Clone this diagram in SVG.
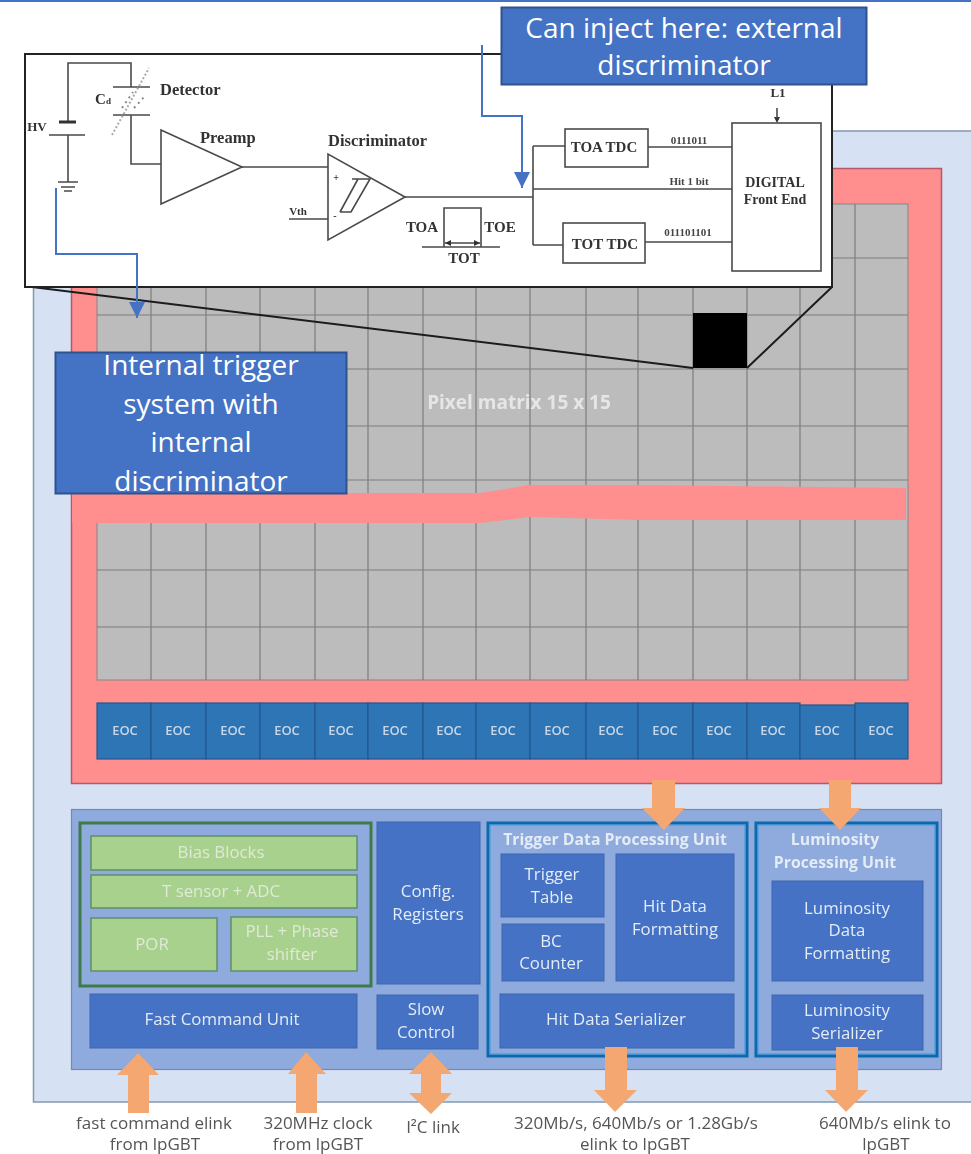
<svg xmlns="http://www.w3.org/2000/svg" width="971" height="1154" viewBox="0 0 971 1154">
<style>
text{font-family:"Open Sans","Noto Sans","Liberation Sans",sans-serif;text-anchor:middle}
.soft{filter:url(#b)}
.call{fill:#4472c4;stroke:#2f528f;stroke-width:2}
.ct{fill:#fff;font-size:28px}
.g{fill:#a9d18e;stroke:#5d8f68;stroke-width:1.5}
.d{fill:#4472c4;stroke:#3f66ad;stroke-width:1}
.w{fill:#e4ecf6;font-size:16.800px}
.wb{fill:#e4ecf6;font-size:15.800px;font-weight:700}
.gw{fill:#dfe9d6;font-size:16.800px}
.e{fill:#2e75b6;stroke:#24568c;stroke-width:1.2}
.et{fill:#c7d6e8;font-size:13px;font-weight:600}
.o{fill:#f4a76f}
.l{fill:#555;font-size:17px}
.s{fill:none;stroke:#4a4a4a;stroke-width:1.6}
.bx{fill:#fff;stroke:#4a4a4a;stroke-width:1.6}
.i{font-family:"Liberation Serif",serif;font-weight:bold;fill:#333;font-size:15px}
.ib{font-size:16.500px;text-anchor:start}
.i3{font-size:14px}
.i2{font-family:"Liberation Serif",serif;font-weight:bold;fill:#444;font-size:11px}
.blue{fill:none;stroke:#4472c4;stroke-width:2}
.inner{fill:none;stroke:#3a9ad9;stroke-width:1}
</style>
<defs>
<filter id="b" x="-2%" y="-2%" width="104%" height="104%"><feGaussianBlur stdDeviation="0.6"/></filter>
<marker id="ah" markerUnits="userSpaceOnUse" markerWidth="16" markerHeight="16" refX="16" refY="8" orient="auto"><path d="M0 0L16 8L0 16z" fill="#4472c4"/></marker>
</defs>
<rect width="971" height="1154" fill="#fff"/>
<rect width="971" height="2" fill="#4472c4"/>
<g class="soft">
<g id="chip"><rect x="33.500" y="131" width="945" height="971" fill="#d6e2f3" stroke="#8497b0" stroke-width="1.500"/></g>
<g id="pixel-area"><rect x="71.500" y="168.500" width="870" height="615" fill="#ff8f8f" stroke="#b05a6c" stroke-width="1.500"/></g>
<g id="pixel-matrix">
<rect x="97" y="204" width="811" height="476" fill="#bcbcbc" stroke="#858585"/>
<path d="M151 204V680M206 204V680M260 204V680M315 204V680M368 204V680M423 204V680M476 204V680M530 204V680M586 204V680M638 204V680M693 204V680M747 204V680M800 204V680M855 204V680M97 258H908M97 315H908M97 369H908M97 426H908M97 480H908M97 570H908M97 627H908" fill="none" stroke="#7d7d7d" stroke-width="1.200"/>
<path d="M72 493H480L530 485H640L906 488V520H640L530 517L480 523H72z" fill="#ff8f8f"/>
<rect x="693" y="313" width="54" height="55" fill="#000"/>
<text x="519" y="409" font-size="19px" font-weight="700" fill="#e6e6e6">Pixel matrix 15 x 15</text>
</g>
<g id="eoc-1"><rect class="e" x="97" y="703" width="54" height="56"/><text class="et" x="125" y="735">EOC</text></g>
<g id="eoc-2"><rect class="e" x="151" y="703" width="55" height="56"/><text class="et" x="178" y="735">EOC</text></g>
<g id="eoc-3"><rect class="e" x="206" y="703" width="54" height="56"/><text class="et" x="233" y="735">EOC</text></g>
<g id="eoc-4"><rect class="e" x="260" y="703" width="55" height="56"/><text class="et" x="287" y="735">EOC</text></g>
<g id="eoc-5"><rect class="e" x="315" y="703" width="53" height="56"/><text class="et" x="341" y="735">EOC</text></g>
<g id="eoc-6"><rect class="e" x="368" y="703" width="55" height="56"/><text class="et" x="395" y="735">EOC</text></g>
<g id="eoc-7"><rect class="e" x="423" y="703" width="53" height="56"/><text class="et" x="449" y="735">EOC</text></g>
<g id="eoc-8"><rect class="e" x="476" y="703" width="54" height="56"/><text class="et" x="503" y="735">EOC</text></g>
<g id="eoc-9"><rect class="e" x="530" y="703" width="56" height="56"/><text class="et" x="557" y="735">EOC</text></g>
<g id="eoc-10"><rect class="e" x="586" y="703" width="52" height="56"/><text class="et" x="611" y="735">EOC</text></g>
<g id="eoc-11"><rect class="e" x="638" y="703" width="55" height="56"/><text class="et" x="665" y="735">EOC</text></g>
<g id="eoc-12"><rect class="e" x="693" y="703" width="54" height="56"/><text class="et" x="719" y="735">EOC</text></g>
<g id="eoc-13"><rect class="e" x="747" y="703" width="53" height="56"/><text class="et" x="773" y="735">EOC</text></g>
<g id="eoc-14"><rect class="e" x="800" y="705" width="55" height="54"/><text class="et" x="827" y="735">EOC</text></g>
<g id="eoc-15"><rect class="e" x="855" y="703" width="53" height="56"/><text class="et" x="881" y="735">EOC</text></g>

<g id="periphery"><rect x="71.500" y="809.500" width="870" height="260" fill="#8faadc" stroke="#7089b5" stroke-width="1.200"/></g>
<g id="analog-frame"><rect x="80" y="823" width="291" height="163" fill="#8faadc" stroke="#3f7a4a" stroke-width="3"/></g>
<g id="bias-blocks"><rect class="g" x="91" y="836" width="266" height="34"/><text class="gw" x="221" y="858">Bias Blocks</text></g>
<g id="t-sensor"><rect class="g" x="91" y="875" width="266" height="33"/><text class="gw" x="221" y="897">T sensor + ADC</text></g>
<g id="por"><rect class="g" x="91" y="918" width="126" height="53"/><text class="gw" x="152" y="950">POR</text></g>
<g id="pll"><rect class="g" x="231" y="917" width="126" height="54"/><text class="gw" x="292" y="937">PLL + Phase</text><text class="gw" x="292" y="960">shifter</text></g>
<g id="fast-command"><rect class="d" x="90" y="994" width="267" height="54"/><text class="w" x="222" y="1025">Fast Command Unit</text></g>
<g id="config"><rect class="d" x="377" y="822" width="103" height="162"/><text class="w" x="428" y="897">Config.</text><text class="w" x="428" y="920">Registers</text></g>
<g id="slow-control"><rect class="d" x="377" y="995" width="101" height="54"/><text class="w" x="426" y="1015">Slow</text><text class="w" x="426" y="1038">Control</text></g>

<g id="trigger-unit"><rect x="488" y="823" width="259" height="233" fill="#8faadc" stroke="#0b68ae" stroke-width="3"/><rect class="inner" x="490" y="825" width="255" height="229"/><text class="wb" x="615" y="845">Trigger Data Processing Unit</text></g>
<g id="trigger-table"><rect class="d" x="501" y="854" width="103" height="63"/><text class="w" x="552" y="880">Trigger</text><text class="w" x="552" y="903">Table</text></g>
<g id="bc-counter"><rect class="d" x="502" y="924" width="102" height="57"/><text class="w" x="551" y="947">BC</text><text class="w" x="551" y="969">Counter</text></g>
<g id="hit-formatting"><rect class="d" x="616" y="854" width="118" height="127"/><text class="w" x="675" y="912">Hit Data</text><text class="w" x="675" y="935">Formatting</text></g>
<g id="hit-serializer"><rect class="d" x="500" y="994" width="234" height="54"/><text class="w" x="616" y="1025">Hit Data Serializer</text></g>
<g id="lumi-unit"><rect x="756" y="823" width="181" height="233" fill="#8faadc" stroke="#0b68ae" stroke-width="3"/><rect class="inner" x="758" y="825" width="177" height="229"/><text class="wb" x="835" y="845">Luminosity</text><text class="wb" x="835" y="868">Processing Unit</text></g>
<g id="lumi-formatting"><rect class="d" x="772" y="881" width="151" height="100"/><text class="w" x="847" y="914">Luminosity</text><text class="w" x="847" y="936">Data</text><text class="w" x="847" y="959">Formatting</text></g>
<g id="lumi-serializer"><rect class="d" x="772" y="995" width="151" height="55"/><text class="w" x="847" y="1016">Luminosity</text><text class="w" x="847" y="1039">Serializer</text></g>

<g id="bus-arrows">
<polygon class="o" points="138,1053 159,1075 149,1075 149,1113 128,1113 128,1075 117,1075"/>
<polygon class="o" points="306,1052 326,1074 317,1074 317,1113 296,1113 296,1074 288,1074"/>
<polygon class="o" points="431,1052 452,1074 441,1074 441,1093 452,1093 431,1114 409,1093 421,1093 421,1074 409,1074"/>
<polygon class="o" points="652,780 675,780 675,808 685,808 664,830 642,808 652,808"/>
<polygon class="o" points="829,780 851,780 851,808 861,808 840,830 819,808 829,808"/>
<polygon class="o" points="605,1047 627,1047 627,1090 637,1090 615,1112 594,1090 605,1090"/>
<polygon class="o" points="836,1047 858,1047 858,1090 868,1090 846,1112 825,1090 836,1090"/>
</g>

<g id="labels">
<text class="l" x="154" y="1129">fast command elink</text><text class="l" x="155" y="1150">from lpGBT</text>
<text class="l" x="318" y="1129">320MHz clock</text><text class="l" x="318" y="1150">from lpGBT</text>
<text class="l" x="433" y="1133">I²C link</text>
<text class="l" x="636" y="1129">320Mb/s, 640Mb/s or 1.28Gb/s</text><text class="l" x="635" y="1150">elink to lpGBT</text>
<text class="l" x="885" y="1129">640Mb/s elink to</text><text class="l" x="886" y="1150">lpGBT</text>
</g>

<g id="zoom-lines"><path d="M32 287L693 368M832 287L747 368" fill="none" stroke="#1c1c1c" stroke-width="2"/></g>
<g id="inset">
<rect x="25" y="54" width="807" height="233" fill="#fff" stroke="#222" stroke-width="2"/>
<path class="s" d="M68 122V63H131V87M131 115V164H161M68 135V182M113 87H150M113 115H150M49 135H85M58 182H78M61 187H75M64 191H72M242 167H328M289 219H328M405 197H533M533 146V245M533 146H565M533 189H732M533 245H563M648 147H732M645 242H732M422 247H500M444 247V208H481V247M445 243H480"/>
<path d="M59 122H76" stroke="#333" stroke-width="3"/>
<path d="M112 135L149 68" stroke="#aaa" stroke-width="2" stroke-dasharray="2 2"/>
<path d="M122 108L133 92M134 108L145 96" stroke="#888" stroke-width="2" stroke-dasharray="2 4"/>
<polygon class="bx" points="161,130 161,204 242,167"/>
<polygon class="bx" points="328,154 328,240 405,197"/>
<path class="s" d="M352 179H370L351 212H340M358 179L340 212"/>
<path d="M445 243l6-3v6zM480 243l-6-3v6zM777 123l-3-6h6z" fill="#333"/>
<text class="i ib" x="160" y="95">Detector</text>
<text class="i" x="103" y="104">C<tspan font-size="9">d</tspan></text>
<text class="i" x="37" y="131" style="font-size:13px">HV</text>
<text class="i ib" x="200" y="143">Preamp</text>
<text class="i ib" x="328" y="146">Discriminator</text>
<text class="i" x="298" y="215" style="font-size:11px">Vth</text>
<text class="i" x="336" y="181" style="font-size:10px">+</text>
<text class="i" x="335" y="219" style="font-size:10px">-</text>
<text class="i" x="422" y="232">TOA</text>
<text class="i" x="500" y="232">TOE</text>
<text class="i" x="464" y="263">TOT</text>
<rect class="bx" x="565" y="129" width="83" height="38"/><text class="i" x="604" y="152">TOA TDC</text>
<rect class="bx" x="563" y="223" width="82" height="40"/><text class="i" x="605" y="249">TOT TDC</text>
<rect class="bx" x="732" y="123" width="89" height="148"/>
<text class="i i3" x="775" y="187">DIGITAL</text><text class="i i3" x="775" y="204">Front End</text>
<text class="i" x="778" y="97" style="font-size:13px">L1</text>
<path class="s" d="M777 108V118"/>
<text class="i2" x="689" y="144">0111011</text><text class="i2" x="689" y="185">Hit 1 bit</text><text class="i2" x="688" y="236">011101101</text>
</g>
</g>
<g id="connectors">
<path class="blue" d="M482 45V116H522V188" marker-end="url(#ah)"/>
<path class="blue" d="M56 188V254H137V318" marker-end="url(#ah)"/>
</g>
<g id="callout-external"><rect class="call" x="501.500" y="7.500" width="365" height="77"/><text class="ct" x="684" y="38">Can inject here: external</text><text class="ct" x="684" y="75">discriminator</text></g>
<g id="callout-internal"><rect class="call" x="55.500" y="352.500" width="291" height="141"/><text class="ct" x="201" y="375">Internal trigger</text><text class="ct" x="201" y="414">system with</text><text class="ct" x="201" y="452">internal</text><text class="ct" x="201" y="491">discriminator</text></g>
</svg>
